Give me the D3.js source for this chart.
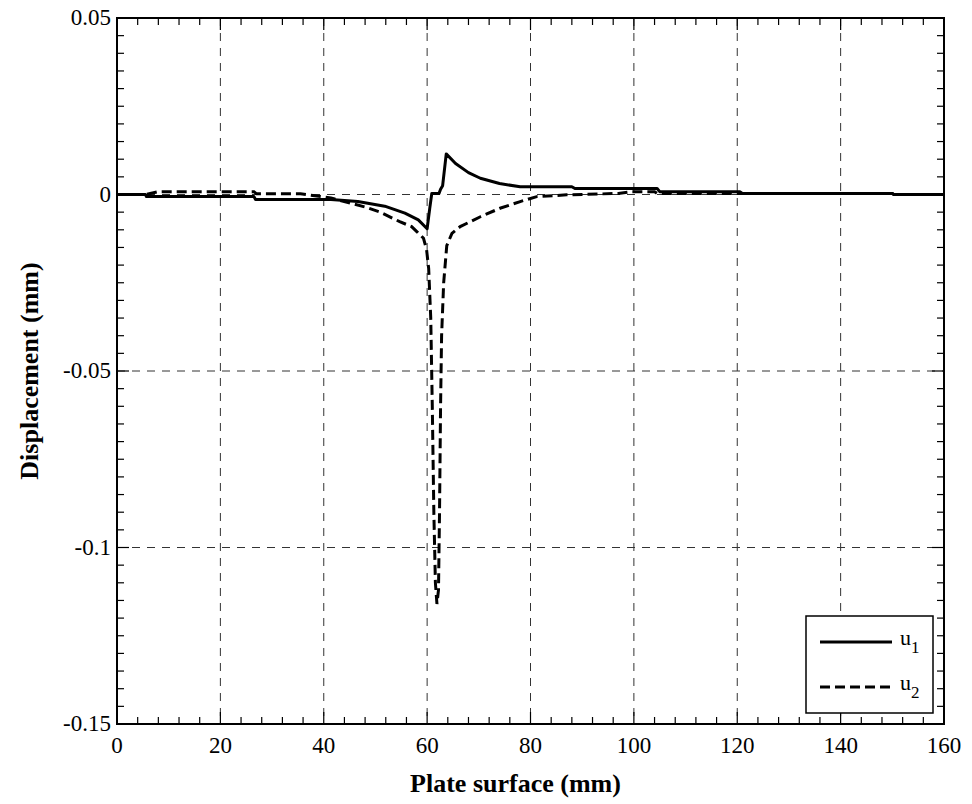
<!DOCTYPE html>
<html><head><meta charset="utf-8">
<script src="https://cdn.jsdelivr.net/npm/d3@7"></script>
<style>body{margin:0;background:#fff}svg{display:block}</style>
</head><body>
<svg id="c" width="972" height="804"></svg>
<script>
// data
const u1X = [0, 5.5, 5.7, 26.5, 26.8, 41.4, 46.6, 51.8, 55.7, 58.3, 60.0, 60.5, 60.9, 62.3, 62.6, 63.0, 63.7, 65.5, 68.0, 70.3, 74.0, 78.0, 88.0, 88.6, 104.5, 105.0, 120.5, 121.0, 150.0, 150.3, 160];
const u1Y = [0, 0, -0.0006, -0.0006, -0.0014, -0.0014, -0.002, -0.0033, -0.0053, -0.0072, -0.0097, -0.004, 0.0003, 0.0003, 0.0015, 0.0025, 0.0115, 0.0088, 0.0062, 0.0046, 0.0031, 0.0022, 0.0022, 0.0017, 0.0017, 0.0008, 0.0008, 0.0003, 0.0003, 0, 0];
const u2X = [0, 5.5, 8.0, 26.5, 27.0, 35.5, 41.4, 47.9, 50.9, 54.7, 57.0, 58.0, 59.3, 59.9, 60.3, 60.7, 61.0, 61.3, 61.6, 61.9, 62.2, 62.4, 62.6, 62.8, 63.2, 63.8, 64.8, 66.4, 70.3, 74.1, 78.0, 81.2, 87.0, 97.0, 99.5, 104.0, 104.5, 150.0, 150.3, 160];
const u2Y = [0, 0, 0.0008, 0.0008, 0.0002, 0.0002, -0.001, -0.0035, -0.005, -0.0077, -0.0091, -0.0105, -0.0124, -0.0157, -0.021, -0.035, -0.06, -0.09, -0.11, -0.116, -0.112, -0.09, -0.06, -0.04, -0.025, -0.0145, -0.011, -0.0091, -0.0063, -0.0039, -0.002, -0.0006, -0.0001, 0.0003, 0.0008, 0.0008, 0.0003, 0.0003, 0, 0];
const xTicks = [0, 20, 40, 60, 80, 100, 120, 140, 160];
const yTicks = [0.05, 0, -0.05, -0.1, -0.15];
const yTickLabels = ["0.05", "0", "-0.05", "-0.1", "-0.15"];
const seriesNames = ["u1", "u2"];

const svg = d3.select("#c");
const L = 117, R = 944, T = 18, B = 724;
const x = d3.scaleLinear().domain([0, 160]).range([L, R]);
const y = d3.scaleLinear().domain([-0.15, 0.05]).range([B, T]);
const font = "'Liberation Serif','Times New Roman',serif";

// grid
const g = svg.append("g");
g.selectAll(".gx").data(xTicks.filter(d => d > 0 && d < 160)).join("line")
  .attr("x1", d => x(d)).attr("x2", d => x(d)).attr("y1", T).attr("y2", B)
  .attr("stroke", "#333").attr("stroke-width", 1).attr("stroke-dasharray", "8,7");
g.selectAll(".gy").data(yTicks.filter(d => d < 0.05 && d > -0.15)).join("line")
  .attr("y1", d => y(d)).attr("y2", d => y(d)).attr("x1", L).attr("x2", R)
  .attr("stroke", "#333").attr("stroke-width", 1).attr("stroke-dasharray", "8,7");

// minor and major ticks (inward)
const xMinor = d3.range(0, 160.01, 4);
const yMinor = d3.range(-0.15, 0.0501, 0.005);
const ax = svg.append("g").attr("stroke", "#000").attr("stroke-width", 1.2);
xMinor.forEach(v => {
  const major = xTicks.includes(Math.round(v));
  const len = major ? 12 : 7;
  ax.append("line").attr("x1", x(v)).attr("x2", x(v)).attr("y1", B).attr("y2", B - len);
  ax.append("line").attr("x1", x(v)).attr("x2", x(v)).attr("y1", T).attr("y2", T + len);
});
yMinor.forEach(v => {
  const major = yTicks.some(t => Math.abs(t - v) < 1e-6);
  const len = major ? 12 : 7;
  ax.append("line").attr("y1", y(v)).attr("y2", y(v)).attr("x1", L).attr("x2", L + len);
  ax.append("line").attr("y1", y(v)).attr("y2", y(v)).attr("x1", R).attr("x2", R - len);
});

// frame
svg.append("rect").attr("x", L).attr("y", T).attr("width", R - L).attr("height", B - T)
  .attr("fill", "none").attr("stroke", "#000").attr("stroke-width", 2);

// tick labels
svg.append("g").selectAll("text").data(xTicks).join("text")
  .attr("x", d => x(d)).attr("y", B + 29).attr("text-anchor", "middle")
  .attr("font-family", font).attr("font-size", 23).text(d => d);
svg.append("g").selectAll("text").data(yTicks).join("text")
  .attr("x", L - 6).attr("y", d => y(d) + 7).attr("text-anchor", "end")
  .attr("font-family", font).attr("font-size", 23).text((d, i) => yTickLabels[i]);

// axis titles
svg.append("text").attr("x", (L + R) / 2 - 15).attr("y", 792).attr("text-anchor", "middle")
  .attr("font-family", font).attr("font-weight", "bold").attr("font-size", 26)
  .text("Plate surface (mm)");
svg.append("text").attr("transform", `translate(38,${(T + B) / 2}) rotate(-90)`)
  .attr("text-anchor", "middle").attr("font-family", font).attr("font-weight", "bold")
  .attr("font-size", 26).text("Displacement (mm)");

// lines
const line = d3.line().x(d => x(d[0])).y(d => y(d[1]));
svg.append("clipPath").attr("id", "cp").append("rect")
  .attr("x", L).attr("y", T).attr("width", R - L).attr("height", B - T);
svg.append("path").datum(u1X.map((v, i) => [v, u1Y[i]])).attr("d", line)
  .attr("fill", "none").attr("stroke", "#000").attr("stroke-width", 3)
  .attr("stroke-linejoin", "round").attr("clip-path", "url(#cp)");
svg.append("path").datum(u2X.map((v, i) => [v, u2Y[i]])).attr("d", line)
  .attr("fill", "none").attr("stroke", "#000").attr("stroke-width", 3)
  .attr("stroke-dasharray", "10,5").attr("clip-path", "url(#cp)");

// legend
const lg = svg.append("g");
lg.append("rect").attr("x", 806).attr("y", 616).attr("width", 127).attr("height", 97)
  .attr("fill", "#fff").attr("stroke", "#000").attr("stroke-width", 1.5);
[0, 1].forEach(i => {
  const yy = 642 + i * 45;
  lg.append("line").attr("x1", 820).attr("x2", 892).attr("y1", yy).attr("y2", yy)
    .attr("stroke", "#000").attr("stroke-width", 3)
    .attr("stroke-dasharray", i === 1 ? "10,5" : null);
  const t = lg.append("text").attr("x", 900).attr("y", yy + 3)
    .attr("font-family", font).attr("font-size", 22).attr("fill", "#000");
  t.append("tspan").text(seriesNames[i][0]);
  t.append("tspan").attr("dy", 8).attr("font-size", 17).text(seriesNames[i].slice(1));
});
</script>
</body></html>
